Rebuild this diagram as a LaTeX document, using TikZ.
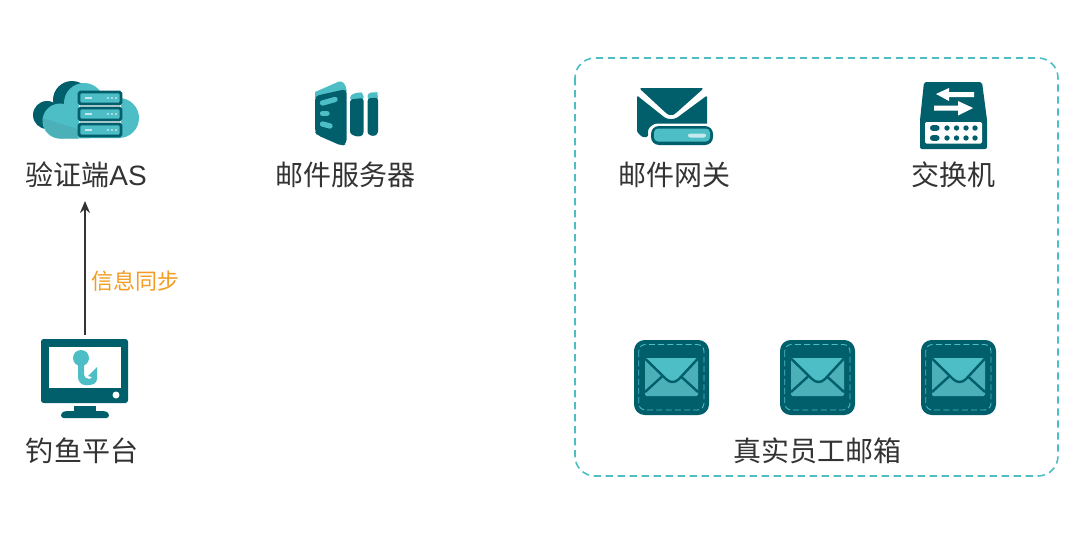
\documentclass[tikz,border=0pt]{standalone}
\usepackage{fontspec}
\setmainfont{Liberation Sans}
\newfontfamily\cjk{Noto Sans CJK SC}
\usetikzlibrary{arrows.meta}
\definecolor{dk}{HTML}{005F6B}
\definecolor{cy}{HTML}{4DBDC6}
\definecolor{cyd}{HTML}{4BB0B8}
\definecolor{pale}{HTML}{C5E9EC}
\definecolor{txt}{HTML}{333333}
\definecolor{org}{HTML}{F39C1F}
\tikzset{
  labeltext/.style={inner sep=0pt,text=txt,font=\fontsize{21pt}{24pt}\selectfont\cjk},
  groupbox/.style={draw=cy,line width=1.2pt,dash pattern=on 5.5pt off 3.5pt,rounded corners=15pt},
  link/.style={draw=txt,line width=1.3pt,-{Stealth[length=9pt,width=7.5pt]}},
  serverrow/.style={draw=dk,fill=cy,line width=2.2pt,rounded corners=1.2pt},
  mailbody/.style={fill=dk,rounded corners=8pt},
  mailstitch/.style={draw=cy,line width=.65pt,dash pattern=on 4.5pt off 2.4pt,rounded corners=5pt},
}
\newcommand{\serverrow}[1]{%
  \draw[serverrow] (79,#1) rectangle (121,#1+12);
  \fill[pale] (85,#1+4.7) rectangle (92,#1+7.3);
  \fill[pale] (108,#1+6) circle (1.1);
  \fill[pale] (112,#1+6) circle (1.1);
  \fill[pale] (116,#1+6) circle (1.1);
}
\newcommand{\mailbox}[1]{%
  \begin{scope}[shift={(#1,0)}]
    \fill[mailbody] (0,340) rectangle (75,415);
    \draw[mailstitch] (4.7,344.5) rectangle (70,410);
    \fill[cyd,rounded corners=1pt] (11,358) rectangle (64,396);
    \fill[cy] (11,358) -- (64,358) -- (45,379) .. controls (41,383) and (36,383) .. (32,379) -- cycle;
    \draw[dk,line width=1.8pt,line join=round] (11,358.5) -- (32,379) .. controls (36,383) and (41,383) .. (45,379) -- (64,358.5);
    \draw[dk,line width=1.8pt] (11,392) -- (28,376.5);
    \draw[dk,line width=1.8pt] (64,392) -- (47,376.5);
  \end{scope}
}
\begin{document}
\begin{tikzpicture}[x=.75pt,y=-.75pt]
\useasboundingbox (0,0) rectangle (1080,542);
\fill[white] (0,0) rectangle (1080,542);
% group
\draw[groupbox] (575,58) rectangle (1058,476);
% cloud
\fill[dk] (47,115) circle (14);
\fill[dk] (72,100) circle (19);
\fill[dk] (47,105) -- (80,100) -- (80,134) -- (47,129) -- cycle;
\fill[cy] (60,121) circle (17.5);
\fill[cy] (84,103) circle (20);
\fill[cy] (119,118) circle (20);
\fill[cy] (60,110) -- (119,98) -- (119,138) -- (60,138.5) -- cycle;
\fill[cyd] (42.5,118) -- (80,130) -- (78,138.5) -- (60,138.5) .. controls (50,138.5) and (44,130) .. (42.5,118) -- cycle;
\fill[white] (79,105) rectangle (121,123);
\serverrow{92}\serverrow{108}\serverrow{124}
% books
\fill[cy] (315,92) -- (339,81.5) .. controls (343,80.5) and (346,85) .. (346.5,90) -- (346.5,92) -- (315,98) -- cycle;
\fill[dk,rounded corners=3pt] (315,96) -- (346.5,89) -- (346.5,144) -- (342,146) -- (317,135) -- (315,132) -- cycle;
\draw[cy,line width=4pt,line cap=round] (322.5,103) -- (335,99.5);
\draw[cy,line width=4pt,line cap=round] (322.5,113.5) -- (327,113.5);
\draw[cy,line width=4pt,line cap=round] (322.5,124) -- (330,126);
\fill[cy,rounded corners=2.5pt] (350,101) -- (350,95) -- (359,92) -- (363.5,93) -- (363.5,101) -- cycle;
\fill[dk,rounded corners=2pt] (350,99.5) -- (363.5,98) -- (363.5,135) -- (358,137) -- (350,134) -- cycle;
\fill[cy,rounded corners=2.5pt] (367.5,100) -- (367.5,93) -- (376,92) -- (378,93) -- (378,100) -- cycle;
\fill[dk,rounded corners=2pt] (367.5,98.5) -- (378,97.5) -- (378,134) -- (373,136.5) -- (367.5,134) -- cycle;
% gateway
\fill[dk,rounded corners=2pt] (639,88) -- (704,88) -- (675.5,113.5) .. controls (673,115) and (669,115) .. (666.5,113.5) -- cycle;
\fill[dk,rounded corners=1pt] (637,95.5) -- (664,117) .. controls (668,119.5) and (674,119.5) .. (678,117) -- (707,95.5) -- (707,125) -- (657,125) .. controls (651,125) and (648,128) .. (648,133) -- (648,137) -- (642,137) -- (637,132) -- cycle;
\fill[white,rounded corners=7pt] (648.5,123.5) rectangle (716,147);
\fill[dk,rounded corners=6pt] (651,126) rectangle (713,145);
\fill[cy,rounded corners=3pt] (654,128.5) rectangle (710,141.5);
\fill[pale,rounded corners=1.5pt] (688,133.5) rectangle (706,137.5);
% switch
\fill[dk,rounded corners=1.5pt] (924,82) -- (982,82) -- (987,120) -- (987,149) -- (920,149) -- (920,120) -- cycle;
\fill[white,rounded corners=1pt] (925,122) rectangle (982,143.5);
\fill[white] (936,94) -- (949,88) -- (949,92.2) -- (974,92.2) -- (974,97) -- (949,97) -- (949,101) -- cycle;
\fill[white] (973,108) -- (958,101) -- (958,105.7) -- (934,105.7) -- (934,110.7) -- (958,110.7) -- (958,115.5) -- cycle;
\foreach \yy in {128,138}{
  \fill[dk,rounded corners=2pt] (930,\yy-2.8) rectangle (939.5,\yy+2.8);
  \foreach \xx in {947,956.5,966,975}{\fill[dk] (\xx,\yy) circle (2.7);}
}
% monitor
\fill[dk,rounded corners=2pt] (41,339) rectangle (128,403);
\fill[white] (49,347) rectangle (121,388);
\fill[white] (116,395) circle (3.5);
\fill[dk] (74,406) rectangle (96,412);
\fill[dk,rounded corners=2pt] (61,418) -- (61,413) -- (65,411) -- (105,411) -- (109,413) -- (109,418) -- cycle;
\fill[cy] (81,358) circle (8);
\fill[cy] (78,362) -- (84,362) -- (84,373) .. controls (84,377) and (86,379) .. (89,379) .. controls (90.5,379) and (91.5,378) .. (92,377) -- (88,376) -- (97,367) -- (97,379) .. controls (97,383) and (93,385) .. (89,385) -- (85,385) .. controls (81,385) and (78,381) .. (78,377) -- cycle;
\coordinate (monitortop) at (85,335);
% mailboxes
\mailbox{634}\mailbox{780}\mailbox{921}
% labels
\node[labeltext] (as) at (86,175) {验证端\textrm{AS}};
\node[labeltext] (mail) at (345.5,175) {邮件服务器};
\node[labeltext] (gate) at (674,175) {邮件网关};
\node[labeltext] (sw) at (953,175) {交换机};
\node[labeltext] (fish) at (82,451) {钓鱼平台};
\node[labeltext] (staff) at (817,451) {真实员工邮箱};
\coordinate (astip) at (85,201);
\draw[link] (monitortop) -- (astip);
\node[inner sep=0pt,text=org,font=\fontsize{16.5pt}{20pt}\selectfont\cjk] (sync) at (135,281) {信息同步};
\end{tikzpicture}
\end{document}
